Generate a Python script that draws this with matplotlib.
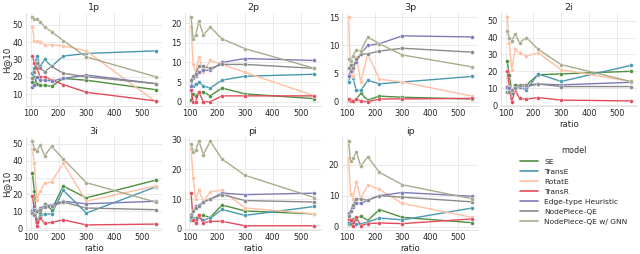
import matplotlib
matplotlib.use("Agg")
import matplotlib.pyplot as plt
from matplotlib.lines import Line2D
from matplotlib.ticker import MultipleLocator
import seaborn as sns

sns.set_style("whitegrid")
plt.rcParams['font.family'] = ['DejaVu Sans']

ratio = [106, 113, 122, 134, 150, 175, 217, 300, 550]
models = ["SE", "TransE", "RotatE", "TransR", "Edge-type Heuristic",
          "NodePiece-QE", "NodePiece-QE w/ GNN"]
colors = ["#4d8f3e", "#4a98b0", "#ffbea0", "#e34a5c", "#7b7bb8",
          "#8a8a8a", "#a9ab8c"]
query_types = ["1p", "2p", "3p", "2i", "3i", "pi", "ip"]
y_steps = [10, 5, 5, 10, 10, 10, 10]

# H@10 per query type, one list per model (same order as models)
h10_1p = [
    [17, 20, 16, 15, 15, 14.5, 19, 18, 12.5],
    [22, 25, 32, 26, 30, 26, 32, 33.5, 35],
    [49, 41, 41, 40, 38.5, 38.5, 38, 35, 5.5],
    [32, 28, 25, 20, 20, 18, 15.5, 11, 6],
    [14, 15, 20, 18, 18, 17.5, 19, 21, 16],
    [19, 23, 28, 25, 23, 26, 22, 20, 16],
    [54.5, 53.5, 53.5, 52, 49, 46, 41, 31.5, 20],
]
h10_2p = [
    [0.5, 2, 1.5, 2.5, 2.5, 1.5, 3.5, 2, 0.8],
    [4, 4, 4.5, 5, 4, 3.5, 5.5, 6.5, 7],
    [19, 9.5, 7.5, 11.5, 7.5, 10.5, 9.5, 7.5, 1.5],
    [3, 0, 0, 2.5, 0, 0, 1.5, 1.5, 1.5],
    [4, 6, 6.5, 7.5, 8, 8, 10, 11, 10.5],
    [5.5, 6.5, 7, 9, 9, 8.5, 9.5, 9.5, 8.5],
    [21.5, 16, 17, 20.5, 17, 19, 16, 13.5, 8.5],
]
h10_3p = [
    [0.3, 0.3, 0.2, 0.5, 1.5, 0.3, 1, 0.8, 0.5],
    [3.5, 5, 4.2, 2, 2, 3.8, 3.2, 3.5, 4.5],
    [15, 5, 4.5, 8, 3.5, 8.5, 4, 3.5, 1],
    [0.5, 0.2, 0.1, 0.5, 0.1, 0, 0.5, 0.5, 0.6],
    [4.5, 5.5, 6.5, 7, 8.5, 10, 10.3, 11.7, 11.5],
    [6, 6.5, 6, 7.5, 8.5, 8.5, 9, 9.5, 8.8],
    [7.5, 7.2, 8.2, 9.2, 9, 11.5, 10.3, 8.3, 6.2],
]
h10_2i = [
    [26, 18, 8, 12, 12, 12, 18, 18.5, 20],
    [10, 10, 7, 9.5, 10.5, 9, 18.5, 14, 23.5],
    [52, 37, 21, 33, 31, 29, 31, 21, 14],
    [20, 11, 2, 9, 4, 3.5, 4.5, 3, 2.5],
    [11, 10, 9, 10, 11, 11, 12.5, 12, 13.5],
    [8, 8, 9, 10, 12, 12, 12.5, 11, 11],
    [44, 40, 38, 42, 37, 40, 33, 24, 14],
]
h10_3i = [
    [32.5, 22, 3, 9, 14.5, 11, 25, 18, 28.5],
    [11, 13, 4, 7, 8.5, 8.5, 22.5, 9, 24.5],
    [47, 38.5, 17, 22, 26.5, 27.5, 38.5, 16, 25],
    [19, 11, 1.5, 6, 3, 3.5, 5, 2, 2.5],
    [10, 11, 10, 12, 13, 14, 16, 14.5, 16],
    [9, 8, 10.5, 11, 12.5, 13, 15.5, 12, 11],
    [51.5, 47, 46, 49, 43, 48.5, 41, 27, 15.5],
]
h10_pi = [
    [4, 3, 3.5, 4.5, 4.5, 3.8, 8, 6, 5],
    [3, 3.5, 3, 4, 3, 3.5, 6.5, 4.5, 7.5],
    [27, 17, 10, 13, 9, 12.5, 13, 7, 5],
    [12, 3, 2, 4.5, 2, 2.5, 2.5, 1, 1],
    [4.5, 6, 7.5, 8, 9, 10, 12, 11.5, 12],
    [4, 6, 7, 7.5, 9, 10, 11.5, 9.5, 9],
    [28.5, 26, 26.5, 29.5, 25, 29.5, 23.5, 18, 10.5],
]
h10_ip = [
    [1, 2, 2.5, 2.5, 3.5, 2, 5.5, 3, 1.3],
    [1.5, 0.8, 1.5, 0.8, 1, 1.5, 2.8, 2.2, 6],
    [22, 10.5, 9, 14.5, 9, 13.5, 12, 7.5, 3],
    [2.5, 2, 0.3, 3, 0.3, 1, 1.2, 1, 2.5],
    [4.5, 5, 6.5, 7.5, 7.5, 8.5, 10, 11, 9.8],
    [3.5, 5, 7, 9, 9, 8.5, 10, 9.5, 8],
    [27.5, 21, 22, 24, 19.5, 22.5, 17.5, 13.5, 9],
]
all_h10 = [h10_1p, h10_2p, h10_3p, h10_2i, h10_3i, h10_pi, h10_ip]

fig = plt.figure(figsize=(6.4, 2.54), dpi=100)
lefts = [0.041, 0.289, 0.535, 0.783]
bottoms = [1 - 106/254, 1 - 230/254]
w, h = 0.212, 93/254

for k, (qt, data) in enumerate(zip(query_types, all_h10)):
    r, c = divmod(k, 4)
    ax = fig.add_axes([lefts[c], bottoms[r], w, h])
    for name, col, ys in zip(models, colors, data):
        ax.plot(ratio, ys, color=col, lw=1, marker="o", ms=2.8,
                mec="white", mew=0.3, label=name)
    ax.set_title(qt, fontsize=6.8, pad=2)
    ax.set_xticks([100, 200, 300, 400, 500])
    ax.yaxis.set_major_locator(MultipleLocator(y_steps[k]))
    ax.tick_params(labelsize=5.9, pad=2.5, length=0)
    ax.grid(color="#e6e6e6", lw=0.6)
    for s in ["top", "right"]:
        ax.spines[s].set_visible(False)
    for s in ["left", "bottom"]:
        ax.spines[s].set_color("#dddddd")
        ax.spines[s].set_linewidth(0.6)
    if c == 0:
        ax.set_ylabel("H@10", fontsize=6.2, labelpad=1)
    if r == 1 or c == 3:
        ax.set_xlabel("ratio", fontsize=6.2, labelpad=1)

leg_handles = [Line2D([], [], color=col, lw=1.2) for col in colors]
fig.legend(leg_handles, models, title="model", loc="center left",
           bbox_to_anchor=(0.813, 0.27), frameon=False, fontsize=5.4,
           title_fontsize=5.8, handlelength=2.3, handletextpad=0.9,
           labelspacing=0.5, borderaxespad=0, borderpad=0)

fig.savefig("out.png", dpi=100)
